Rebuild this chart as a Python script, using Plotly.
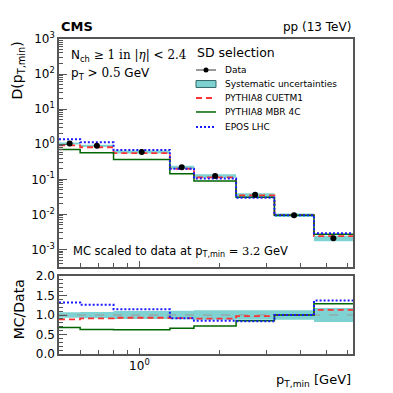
import plotly.graph_objects as go

# pT,min bin edges [GeV] and values
edges = [0.5, 0.6, 0.8, 1.3, 1.6, 2.3, 3.2, 4.5, 6.3]
centers = [0.548, 0.693, 1.02, 1.44, 1.92, 2.71, 3.79, 5.32]

data = [1.05, 0.9, 0.6, 0.22, 0.125, 0.036, 0.0095, 0.0021]
syst_rel = [0.07, 0.08, 0.10, 0.11, 0.12, 0.12, 0.12, 0.18]

cuetm1 = [0.93, 0.82, 0.56, 0.20, 0.113, 0.035, 0.0095, 0.0024]
mbr4c = [0.71, 0.57, 0.37, 0.145, 0.090, 0.031, 0.0095, 0.0027]
epos = [1.39, 1.13, 0.69, 0.20, 0.106, 0.030, 0.0095, 0.0029]

r_cuetm1 = [0.89, 0.915, 0.93, 0.92, 0.905, 0.97, 1.0, 1.13]
r_mbr4c = [0.68, 0.63, 0.62, 0.66, 0.72, 0.85, 1.0, 1.29]
r_epos = [1.32, 1.26, 1.15, 0.92, 0.85, 0.84, 1.0, 1.37]

FONT = 'DejaVu Sans'
SERIF = 'DejaVu Serif'
BAND = 'rgba(0,165,165,0.5)'
RED = dict(color='#ff3333', width=1.8, dash='6px,4px')
GREEN = dict(color='#006600', width=1.5)
BLUE = dict(color='#1a1aff', width=2, dash='2px,2px')


def step(vals):
    return list(vals) + [vals[-1]]


fig = go.Figure()

# systematic band, main panel
lo = [d * (1 - s) for d, s in zip(data, syst_rel)]
hi = [d * (1 + s) for d, s in zip(data, syst_rel)]
fig.add_trace(go.Scatter(x=edges, y=step(lo), mode='lines', line=dict(width=0, shape='hv'),
                         hoverinfo='skip'))
fig.add_trace(go.Scatter(x=edges, y=step(hi), mode='lines', line=dict(width=0, shape='hv'),
                         fill='tonexty', fillcolor=BAND, hoverinfo='skip'))

# systematic band, ratio panel
fig.add_trace(go.Scatter(x=edges, y=step([1 - s for s in syst_rel]), mode='lines',
                         line=dict(width=0, shape='hv'), xaxis='x2', yaxis='y2', hoverinfo='skip'))
fig.add_trace(go.Scatter(x=edges, y=step([1 + s for s in syst_rel]), mode='lines',
                         line=dict(width=0, shape='hv'), fill='tonexty', fillcolor=BAND,
                         xaxis='x2', yaxis='y2', hoverinfo='skip'))
fig.add_trace(go.Scatter(x=[edges[0], edges[-1]], y=[1, 1], mode='lines',
                         line=dict(color='#999999', width=1, dash='dash'),
                         xaxis='x2', yaxis='y2', hoverinfo='skip'))

models = [
    ('PYTHIA8 CUETM1', cuetm1, r_cuetm1, RED),
    ('PYTHIA8 MBR 4C', mbr4c, r_mbr4c, GREEN),
    ('EPOS LHC', epos, r_epos, BLUE),
]
for name, vals, ratio, ln in models:
    fig.add_trace(go.Scatter(x=edges, y=step(vals), mode='lines', name=name,
                             line=dict(shape='hv', **ln)))
    fig.add_trace(go.Scatter(x=edges, y=step(ratio), mode='lines', name=name,
                             line=dict(shape='hv', **ln), xaxis='x2', yaxis='y2'))

fig.add_trace(go.Scatter(x=centers, y=data, mode='markers', name='Data',
                         marker=dict(color='black', size=6)))

frame = dict(showline=True, linecolor='#555555', linewidth=1.5, mirror=True,
             ticks='inside', tickcolor='#555555', showgrid=False, zeroline=False,
             automargin=False, tickfont=dict(family=FONT, size=12, color='black'))

xminor = [0.6, 0.7, 0.8, 0.9, 2, 3, 4, 5, 6]
ymajor = [10 ** k for k in range(-3, 4)]
yminor = [m * 10 ** k for k in range(-4, 3) for m in range(2, 10) if 3.2e-4 < m * 10 ** k < 1e3]

fig.update_layout(
    width=385, height=385,
    margin=dict(l=51, r=40, t=31, b=39),
    plot_bgcolor='white', paper_bgcolor='white',
    font=dict(family=FONT, color='black'),
    showlegend=False,
    xaxis=dict(type='log', range=[-0.30103, 0.7993], anchor='y', domain=[0, 1],
               tickvals=[1], ticklen=6, showticklabels=False,
               minor=dict(tickvals=xminor, ticklen=4, ticks='inside', tickcolor='#555555'),
               **frame),
    xaxis2=dict(type='log', range=[-0.30103, 0.7993], anchor='y2', domain=[0, 1],
                matches='x', tickvals=[1], ticktext=['10<sup>0</sup>'], ticklen=6,
                minor=dict(tickvals=xminor, ticklen=4, ticks='inside', tickcolor='#555555'),
                **frame),
    yaxis=dict(type='log', range=[-3.5, 3], domain=[0.2762, 1], anchor='x',
               tickvals=ymajor, ticktext=['10<sup>%d</sup>' % k for k in range(-3, 4)],
               ticklen=8,
               minor=dict(tickvals=yminor, ticklen=4, ticks='inside', tickcolor='#555555'),
               **frame),
    yaxis2=dict(range=[0, 2], domain=[0, 0.2476], anchor='x2',
                tickvals=[0, 0.5, 1, 1.5, 2], ticktext=['0.0', '0.5', '1.0', '1.5', '2.0'],
                ticklen=8,
                minor=dict(dtick=0.1, ticklen=4, ticks='inside', tickcolor='#555555'),
                **frame),
)

ann = [
    dict(text='<b>CMS</b>', x=0, y=1.008, xanchor='left', yanchor='bottom', font=dict(size=13)),
    dict(text='pp (13 TeV)', x=1, y=1.008, xanchor='right', yanchor='bottom', font=dict(size=12)),
    dict(text='N<sub>ch</sub> <span style="font-family:%s">≥ 1 in |<i>η</i>| &lt; 2.4</span>' % SERIF,
         x=0.035, y=0.978, xanchor='left', yanchor='top', font=dict(size=12)),
    dict(text='p<sub>T</sub> <span style="font-family:%s">&gt; 0.5</span> GeV' % SERIF,
         x=0.035, y=0.92, xanchor='left', yanchor='top', font=dict(size=12)),
    dict(text='MC scaled to data at p<sub>T,min</sub> <span style="font-family:%s">= 3.2</span> GeV' % SERIF,
         x=0.04, y=0.325, xanchor='left', yanchor='middle', font=dict(size=11.5)),
    dict(text='D(p<sub>T,min</sub>)', x=-0.138, y=1.0, xanchor='center', yanchor='top',
         textangle=-90, font=dict(size=14)),
    dict(text='MC/Data', x=-0.138, y=0.245, xanchor='center', yanchor='top',
         textangle=-90, font=dict(size=14)),
    dict(text='p<sub>T,min</sub> [GeV]', x=1, y=-0.083, xanchor='right', yanchor='middle',
         font=dict(size=13)),
]
for a in ann:
    fig.add_annotation(xref='paper', yref='paper', showarrow=False, **a)

# hand-drawn legend (plotly legend rows are too tall for this layout)
lx0, lx1, ltx = 0.466, 0.534, 0.558
rows = [0.9016, 0.8571, 0.8127, 0.7683, 0.7206]
labels = ['Data', 'Systematic uncertainties', 'PYTHIA8 CUETM1', 'PYTHIA8 MBR 4C', 'EPOS LHC']
fig.add_annotation(xref='paper', yref='paper', showarrow=False, text='SD selection',
                   x=lx0 - 0.005, y=0.9556, xanchor='left', yanchor='middle', font=dict(size=12.5))
for yy, lab in zip(rows, labels):
    fig.add_annotation(xref='paper', yref='paper', showarrow=False, text=lab,
                       x=ltx, y=yy, xanchor='left', yanchor='middle', font=dict(size=9))
pp = dict(xref='paper', yref='paper')
fig.add_shape(type='line', x0=lx0, x1=lx1, y0=rows[0], y1=rows[0],
              line=dict(color='#777777', width=1.5), **pp)
fig.add_shape(type='circle', x0=0.5 - 0.0085, x1=0.5 + 0.0085, y0=rows[0] - 0.008,
              y1=rows[0] + 0.008, fillcolor='black', line=dict(width=0), **pp)
fig.add_shape(type='rect', x0=lx0, x1=lx1, y0=rows[1] - 0.011, y1=rows[1] + 0.011,
              fillcolor=BAND, line=dict(color='#336666', width=1), **pp)
for yy, ln in zip(rows[2:], [RED, GREEN, BLUE]):
    fig.add_shape(type='line', x0=lx0, x1=lx1, y0=yy, y1=yy, line=ln, **pp)

fig.write_html('out.html')
